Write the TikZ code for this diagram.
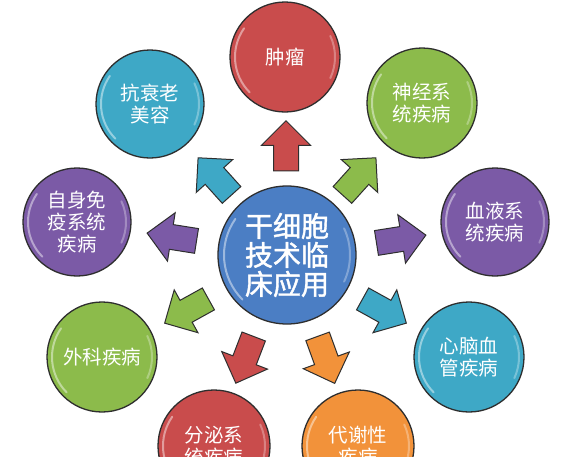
\documentclass[tikz,border=0pt]{standalone}
\usepackage{fontspec}
\newfontfamily\cjk{Noto Sans CJK SC}
\newfontfamily\cjkb[FakeBold=1.5]{Noto Sans CJK SC}
\usetikzlibrary{shapes.arrows}
\definecolor{cred}{HTML}{C94C4C}
\definecolor{cgreen}{HTML}{8CBB4B}
\definecolor{cpurple}{HTML}{7B5AA6}
\definecolor{ccyan}{HTML}{3EA8C6}
\definecolor{corange}{HTML}{F2923A}
\definecolor{cblue}{HTML}{4B7EC4}
\definecolor{cline}{HTML}{2E2E2E}
\begin{document}
\begin{tikzpicture}[x=1pt,y=-1pt,
  ball/.style={circle, draw=cline, line width=1.3pt, text=white, align=center, inner sep=0pt,
    minimum size=110pt, font=\cjk\fontsize{19.5}{22}\selectfont},
  blockarrow/.style={single arrow, draw=cline, line width=1pt, minimum width=48pt,
    minimum height=50pt, inner sep=12pt, single arrow head extend=12pt},
  hl/.style={white, opacity=0.45, line width=2pt, line cap=round}]
\useasboundingbox (0,0) rectangle (570,456);
\fill[white] (0,0) rectangle (570,456);

% arrows
\node[blockarrow, fill=cred, rotate=90] (a1) at (286,152) {};
\node[blockarrow, fill=ccyan, rotate=132] (a2) at (219,181) {};
\node[blockarrow, fill=cgreen, rotate=48] (a3) at (355,181) {};
\node[blockarrow, fill=cpurple, rotate=171] (a4) at (178,238) {};
\node[blockarrow, fill=cpurple, rotate=9] (a5) at (395,240) {};
\node[blockarrow, fill=cgreen, rotate=209] (a6) at (192,308) {};
\node[blockarrow, fill=cred, rotate=249] (a7) at (247,354) {};
\node[blockarrow, fill=ccyan, rotate=-29] (a8) at (379,308) {};
\node[blockarrow, fill=corange, rotate=-70] (a9) at (324,354) {};

% circles
\node[ball, fill=cblue, minimum size=138pt, font=\cjkb\fontsize{28}{29}\selectfont] (hub) at (287,255) {干细胞\\技术临\\床应用};
\node[ball, fill=cred] (tumor) at (285,57) {肿瘤};
\node[ball, fill=ccyan, minimum size=108pt] (aging) at (150,104) {抗衰老\\美容};
\node[ball, fill=cgreen] (nerve) at (422,103) {神经系\\统疾病};
\node[ball, fill=cpurple, minimum size=108pt] (immune) at (77,222) {自身免\\疫系统\\疾病};
\node[ball, fill=cpurple, minimum size=108pt] (blood) at (495,222) {血液系\\统疾病};
\node[ball, fill=cgreen] (surgery) at (102,357) {外科疾病};
\node[ball, fill=ccyan] (heart) at (469,357) {心脑血\\管疾病};
\node[ball, fill=cred, minimum size=112pt] (endo) at (214,446) {分泌系\\统疾病};
\node[ball, fill=corange, minimum size=112pt] (meta) at (358,446) {代谢性\\疾病};

% highlights
\foreach \n/\r in {hub/63, tumor/50, aging/49, nerve/50, immune/49, blood/49, surgery/50, heart/50, endo/51, meta/51}{
  \draw[hl] (\n.center) ++(-145:\r) arc[start angle=-145, end angle=-225, radius=\r];
  \draw[hl, opacity=0.3] (\n.center) ++(-25:\r) arc[start angle=-25, end angle=25, radius=\r];
}
\end{tikzpicture}
\end{document}
